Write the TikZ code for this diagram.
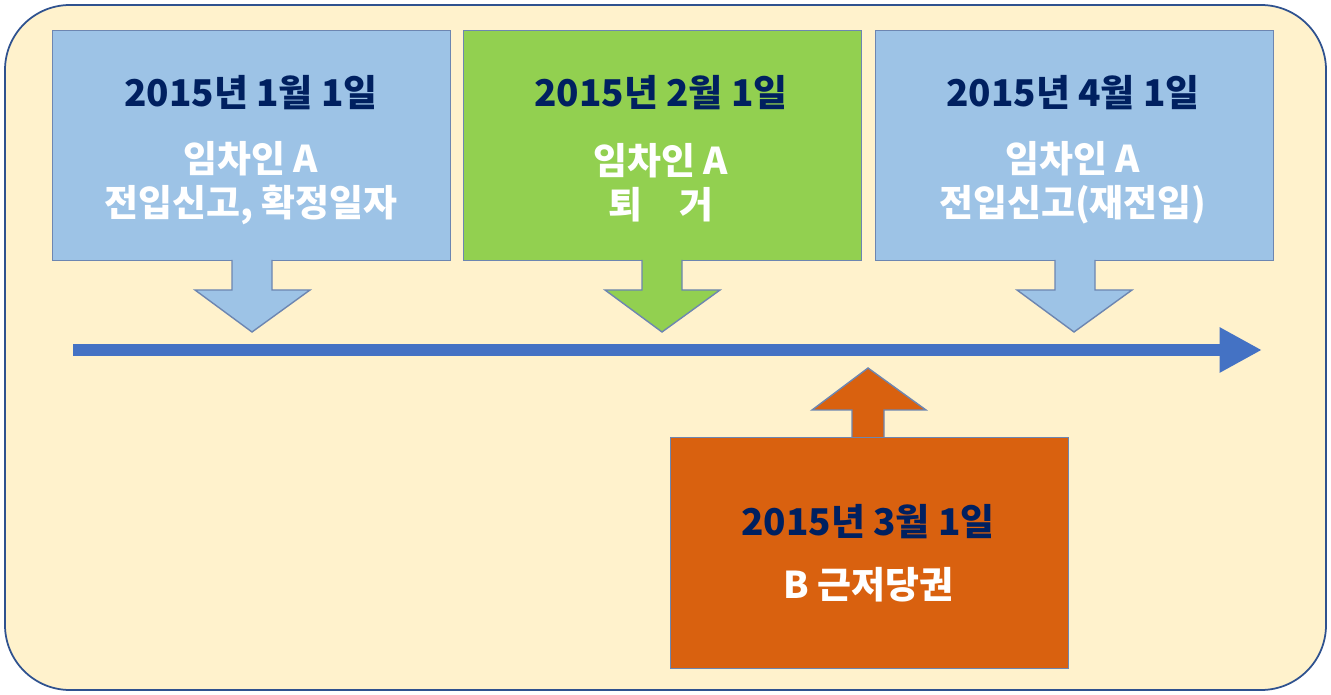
\documentclass[tikz,border=0pt]{standalone}
\usepackage{fontspec}
\setmainfont{Noto Sans CJK KR}
\usetikzlibrary{positioning,arrows.meta}
\definecolor{bgyellow}{HTML}{FFF2CC}
\definecolor{bgline}{HTML}{2F528F}
\definecolor{boxblue}{HTML}{9DC3E6}
\definecolor{boxgreen}{HTML}{92D050}
\definecolor{boxorange}{HTML}{D9610F}
\definecolor{lineblue}{HTML}{4472C4}
\definecolor{datenavy}{HTML}{002060}
\tikzset{
  datebox/.style={draw=bgline!70,line width=0.8pt,minimum width=7.96cm,minimum height=4.6cm,anchor=north west},
  datetxt/.style={text=datenavy,font=\bfseries\fontsize{21}{25}\selectfont},
  bodytxt/.style={text=white,font=\bfseries\fontsize{21}{25}\selectfont,align=center}
}
\begin{document}
\begin{tikzpicture}[x=0.02cm,y=-0.02cm]
\useasboundingbox (0,0) rectangle (1331,695);
\draw[fill=bgyellow,draw=bgline,line width=1pt,rounded corners=1.3cm] (5,5) rectangle (1326,690);
% boxes
\node[datebox,fill=boxblue] (b1) at (52,30) {};
\node[datebox,fill=boxgreen] (b2) at (463,30) {};
\node[datebox,fill=boxblue] (b3) at (875,30) {};
\node[datebox,fill=boxorange,minimum height=4.62cm] (b4) at (670,437) {};
% arrows
\draw[fill=boxblue,draw=bgline!70,line width=0.8pt] (232,260) -- (232,290) -- (195,290) -- (252,332) -- (310,290) -- (272,290) -- (272,260);
\draw[fill=boxgreen,draw=bgline!70,line width=0.8pt] (642,260) -- (642,290) -- (605,290) -- (662,332) -- (720,290) -- (682,290) -- (682,260);
\draw[fill=boxblue,draw=bgline!70,line width=0.8pt] (1055,260) -- (1055,290) -- (1017,290) -- (1074,332) -- (1132,290) -- (1095,290) -- (1095,260);
\draw[fill=boxorange,draw=bgline!70,line width=0.8pt] (852,437) -- (852,410) -- (812,410) -- (868,368) -- (926,410) -- (884,410) -- (884,437);
% timeline
\coordinate (t0) at (73,350);
\coordinate (t1) at (1262,350);
\draw[lineblue,line width=0.24cm,-{Triangle[length=0.85cm,width=0.85cm]}] (t0) -- (t1);
% texts
\node[datetxt] (d1) at (251,93) {2015년 1월 1일};
\node[bodytxt] (l1) at (251,183) {임차인 A\\전입신고, 확정일자};
\node[datetxt] (d2) at (661,93) {2015년 2월 1일};
\node[bodytxt] (l2) at (661,183) {임차인 A\\퇴\quad 거};
\node[datetxt] (d3) at (1073,93) {2015년 4월 1일};
\node[bodytxt] (l3) at (1073,183) {임차인 A\\전입신고(재전입)};
\node[datetxt] (d4) at (868,522) {2015년 3월 1일};
\node[bodytxt] (l4) at (868,585) {B 근저당권};
\end{tikzpicture}
\end{document}
